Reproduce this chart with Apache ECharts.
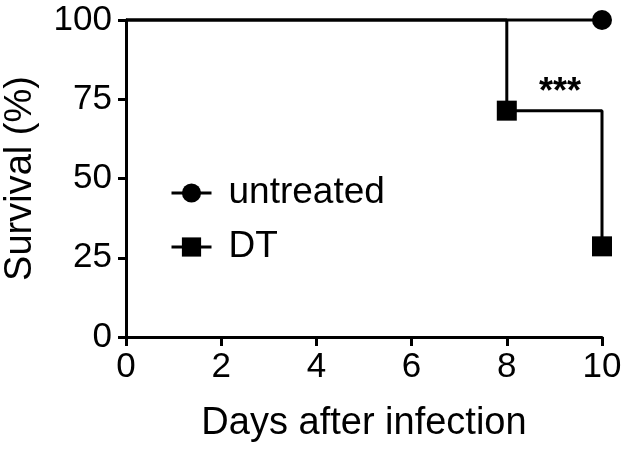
<!DOCTYPE html>
<html>
<head>
<meta charset="utf-8">
<script src="https://cdn.jsdelivr.net/npm/echarts@6/dist/echarts.min.js"></script>
<style>
  html, body { margin: 0; padding: 0; background: #fff; }
  #chart { width: 623px; height: 453px; }
</style>
</head>
<body>
<div id="chart"></div>
<script>
// survival data
var untreatedDays = [0, 10];
var untreatedSurv = [100, 100];
var dtDays = [0, 8, 10];
var dtSurv = [100, 71.4, 28.6];
var seriesNames = ['untreated', 'DT'];
var sigLabel = '***';
var sigPos = [9.12, 77];

var font = 'Liberation Sans, Arial, sans-serif';

// first point of each curve has no marker
function toPoints(xs, ys) {
    var out = [];
    for (var i = 0; i < xs.length; i++) {
        var p = {value: [xs[i], ys[i]]};
        if (i == 0) p.symbol = 'none';
        out.push(p);
    }
    return out;
}

var chart = echarts.init(document.getElementById('chart'));
var option = {
    animation: false,
    grid: {left: 126, right: 21, top: 20, bottom: 116, outerBoundsMode: 'none'},
    legend: {
        orient: 'vertical',
        left: 165,
        top: 168,
        itemWidth: 40,
        itemHeight: 24,
        itemGap: 14,
        data: seriesNames,
        lineStyle: {width: 3, color: '#000'},
        textStyle: {
            fontFamily: font,
            fontSize: 37,
            color: '#000',
            lineHeight: 40,
            padding: [0, 0, 0, 12]
        }
    },
    xAxis: {
        type: 'value',
        min: 0,
        max: 10,
        interval: 2,
        name: 'Days after infection',
        nameLocation: 'middle',
        nameGap: 68,
        nameTextStyle: {fontFamily: font, fontSize: 38, color: '#000'},
        axisLine: {lineStyle: {color: '#000', width: 3}},
        axisTick: {length: 9, lineStyle: {color: '#000', width: 3}},
        axisLabel: {fontFamily: font, fontSize: 35, color: '#000', margin: 13},
        splitLine: {show: false}
    },
    yAxis: {
        type: 'value',
        min: 0,
        max: 100,
        interval: 25,
        name: 'Survival (%)',
        nameLocation: 'middle',
        nameGap: 86,
        nameTextStyle: {fontFamily: font, fontSize: 38, color: '#000'},
        axisLine: {show: true, lineStyle: {color: '#000', width: 3}},
        axisTick: {show: true, length: 8, lineStyle: {color: '#000', width: 3}},
        axisLabel: {fontFamily: font, fontSize: 35, color: '#000', margin: 14},
        splitLine: {show: false}
    },
    series: [
        {
            name: seriesNames[0],
            type: 'line',
            step: 'end',
            clip: false,
            symbol: 'circle',
            symbolSize: 20,
            itemStyle: {color: '#000'},
            lineStyle: {color: '#000', width: 3},
            data: toPoints(untreatedDays, untreatedSurv)
        },
        {
            name: seriesNames[1],
            type: 'line',
            step: 'end',
            clip: false,
            symbol: 'rect',
            symbolSize: 20,
            itemStyle: {color: '#000'},
            lineStyle: {color: '#000', width: 3},
            data: toPoints(dtDays, dtSurv),
            markPoint: {
                symbol: 'rect',
                symbolSize: 1,
                itemStyle: {color: 'transparent'},
                label: {
                    show: true,
                    position: 'inside',
                    formatter: sigLabel,
                    fontFamily: font,
                    fontSize: 36,
                    fontWeight: 'bold',
                    color: '#000'
                },
                data: [{coord: sigPos}]
            }
        }
    ]
};
chart.setOption(option);
</script>
</body>
</html>
